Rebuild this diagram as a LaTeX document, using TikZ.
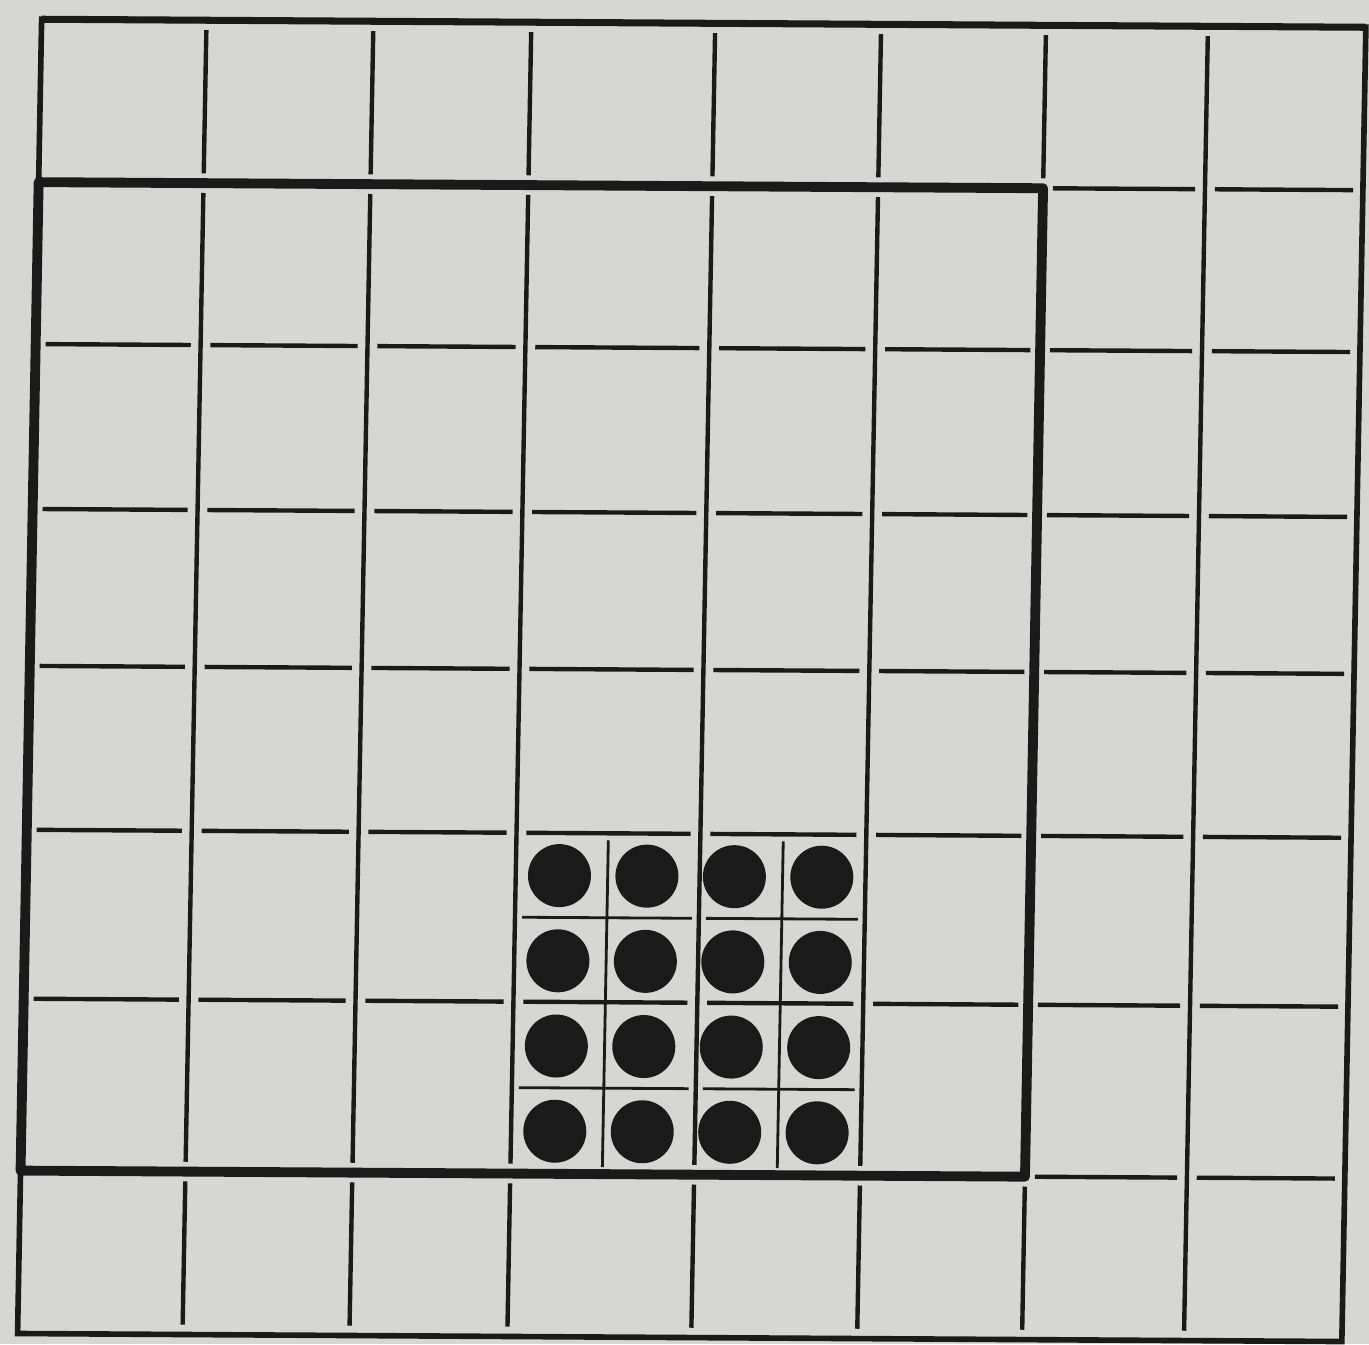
\documentclass[tikz,border=0pt]{standalone}
\usepackage{tikz}
\usetikzlibrary{calc}

\definecolor{paper}{RGB}{214,214,212}
\definecolor{ink}{RGB}{26,26,26}

\def\colpos{{42,207,374,532,716,882,1047,1209,1367}}
\def\rowpos{{19,182,344,509,666,830,999,1171,1334}}

\tikzset{
    gridline/.style={draw=ink, line width=1.25pt, shorten <=2.8pt, shorten >=2.8pt},
    frameline/.style={draw=ink, line width=2.8pt, line join=round},
    borderline/.style={draw=ink, line width=1.6pt},
    subline/.style={draw=ink, line width=0.8pt, shorten <=2pt, shorten >=2pt},
    stone/.style={circle, fill=ink, inner sep=0pt, minimum size=6.3mm}
}

\begin{document}
\begin{tikzpicture}
    % Paper
    \fill[paper] (0,0) rectangle (13.69,13.44);
    \useasboundingbox (0,0) rectangle (13.69,13.44);

    \begin{scope}[shift={(0cm,13.44cm)}, x={(0.01cm,-0.00006cm)}, y={(-0.00018cm,-0.01cm)}]
    % Grid corners
    \foreach \i in {0,...,8} {
        \foreach \j in {0,...,8} {
            \pgfmathsetmacro{\cu}{\colpos[\i]}
            \pgfmathsetmacro{\rv}{\rowpos[\j]}
            \coordinate (p\i-\j) at (\cu,\rv);
        }
    }

    % Horizontal lines
    \foreach \j in {2,...,6} {
        \foreach \i/\k in {0/1,1/2,2/3,3/4,4/5,5/6,6/7,7/8}
            \draw[gridline] (p\i-\j) -- (p\k-\j);
    }
    \foreach \j in {1,7} {
        \foreach \i/\k in {6/7,7/8}
            \draw[gridline] (p\i-\j) -- (p\k-\j);
    }

    % Vertical lines
    \foreach \i in {1,...,5} {
        \draw[gridline] (p\i-0) -- (p\i-1);
        \draw[gridline] (p\i-1) -- (p\i-7);
        \draw[gridline] (p\i-7) -- (p\i-8);
    }
    \draw[gridline] (p6-0) -- (p6-1);
    \draw[gridline] (p6-7) -- (p6-8);
    \draw[gridline] (p7-0) -- (p7-8);

    % Outer border and heavy frame
    \draw[borderline] (p0-0) -- (p8-0) -- (p8-8) -- (p0-8) -- cycle;
    \draw[borderline, line width=2pt] (p0-0) -- (p8-0);
    \draw[frameline] (p0-1) -- (p6-1) -- (p6-7) -- (p0-7) -- cycle;

    % Small squares of the counter block
    \foreach \i/\k in {3/4,4/5} {
        \draw[subline] ($(p\i-5)!0.5!(p\k-5)$) -- ($(p\i-7)!0.5!(p\k-7)$);
        \foreach \j/\m in {5/6,6/7}
            \draw[subline] ($(p\i-\j)!0.5!(p\i-\m)$) -- ($(p\k-\j)!0.5!(p\k-\m)$);
    }

    % Counters
    \foreach \a in {0,...,3} {
        \foreach \b in {0,...,3} {
            \pgfmathsetmacro{\su}{532+(\a+0.5)*87.5}
            \pgfmathsetmacro{\sv}{830+(\b+0.5)*85.25}
            \node[stone] (s\a\b) at (\su,\sv) {};
        }
    }
    \end{scope}
\end{tikzpicture}
\end{document}
